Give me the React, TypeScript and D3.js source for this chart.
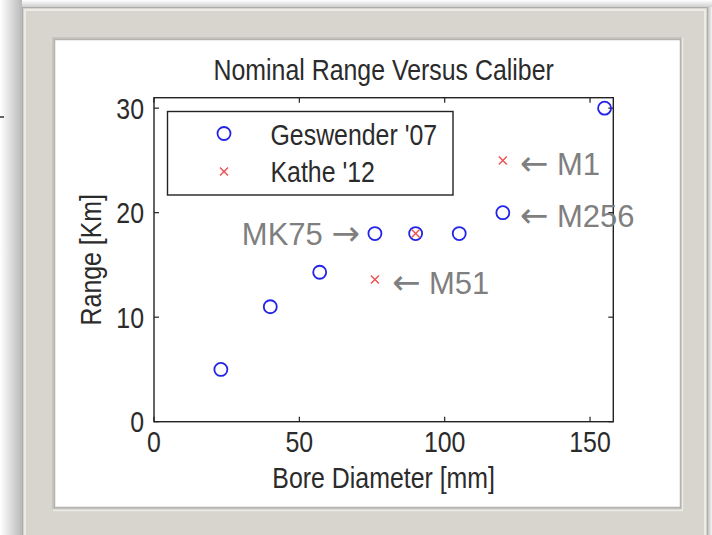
import React from 'react';
import * as d3 from 'd3';

// ---- data ----
const geswenderBore = [23, 40, 57, 76, 90, 105, 120, 155];
const geswenderRange = [5, 11, 14.3, 18, 18, 18, 20, 30];
const katheBore = [76, 90, 120];
const katheRange = [13.6, 18, 25];
const annotationLabels = ['MK75', 'M51', 'M256', 'M1'];
const annotationBore = [76, 76, 120, 120];
const annotationRange = [18, 13.6, 20, 25];
const annotationSide = ['left', 'right', 'right', 'right'];
const xTicks = [0, 50, 100, 150];
const yTicks = [0, 10, 20, 30];
const xDomain = [0, 158];
const yDomain = [0, 31];
const seriesNames = ["Geswender '07", "Kathe '12"];
const titleText = 'Nominal Range Versus Caliber';
const xLabelText = 'Bore Diameter [mm]';
const yLabelText = 'Range [Km]';

const W = 712;
const H = 535;
const FONT = '"Liberation Sans", Arial, "DejaVu Sans", sans-serif';
const ARROW_FONT = '"DejaVu Sans", sans-serif';
const FS = 30;
const SX = 0.83;
const TXT = '#2b2b2b';

function MText({ x, y, anchor = 'start', rotate = 0, children, size = FS, sx = SX, fill = TXT }: any) {
  return (
    <text
      transform={`translate(${x},${y}) rotate(${rotate}) scale(${sx},1)`}
      textAnchor={anchor}
      fontFamily={FONT}
      fontSize={size}
      fill={fill}
    >
      {children}
    </text>
  );
}

function Circle({ cx, cy }: any) {
  return <circle cx={cx} cy={cy} r={6.5} fill="none" stroke="#2323e8" strokeWidth={1.8} />;
}

function Cross({ cx, cy }: any) {
  const s = 4;
  return (
    <g stroke="#ee5050" strokeWidth={1.4}>
      <line x1={cx - s} y1={cy - s} x2={cx + s} y2={cy + s} />
      <line x1={cx - s} y1={cy + s} x2={cx + s} y2={cy - s} />
    </g>
  );
}

export default function App() {
  const x = d3.scaleLinear().domain(xDomain).range([154, 613.3]);
  const y = d3.scaleLinear().domain(yDomain).range([421.7, 97.7]);
  const [x0, x1] = x.range();
  const [y0, y1] = y.range();
  const tl = 5;
  const geswender = d3.zip(geswenderBore, geswenderRange);
  const kathe = d3.zip(katheBore, katheRange);
  const annotations = annotationLabels.map((l, i) => ({
    label: l,
    bx: annotationBore[i],
    r: annotationRange[i],
    side: annotationSide[i],
  }));

  return (
    <svg width={W} height={H} style={{ position: 'absolute', left: 0, top: 0 }}>
      <defs>
        <linearGradient id="shL" x1="0" x2="1" y1="0" y2="0">
          <stop offset="0" stopColor="#ffffff" />
          <stop offset="1" stopColor="#b9b9b9" />
        </linearGradient>
        <linearGradient id="shT" x1="0" x2="0" y1="0" y2="1">
          <stop offset="0" stopColor="#ffffff" />
          <stop offset="1" stopColor="#cfcfcf" />
        </linearGradient>
        <linearGradient id="shR" x1="0" x2="1" y1="0" y2="0">
          <stop offset="0" stopColor="#c4c4c4" />
          <stop offset="1" stopColor="#f4f4f4" />
        </linearGradient>
      </defs>
      <rect x={0} y={0} width={W} height={H} fill="#ffffff" />
      {/* shadows */}
      <rect x={0} y={0} width={22} height={H} fill="url(#shL)" />
      <rect x={22} y={0} width={690} height={7} fill="url(#shT)" />
      <rect x={708} y={7} width={4} height={H} fill="url(#shR)" />
      <line x1={0} x2={4} y1={117} y2={117} stroke="#333" strokeWidth={1.5} />
      {/* frame */}
      <rect x={22.5} y={7.5} width={685} height={H} fill="#d7d5ce" stroke="#aeaca6" strokeWidth={1} />
      <rect x={25} y={10} width={680} height={H} fill="none" stroke="#ecebe6" strokeWidth={2} />
      {/* inner panel bevel */}
      <rect x={52} y={37} width={630} height={472} fill="#c6c5bf" />
      <rect x={54.5} y={39.5} width={626} height={468} fill="#ffffff" stroke="#b4b3ad" strokeWidth={1.5} />
      <line x1={682.5} x2={682.5} y1={38} y2={510} stroke="#ebeae5" strokeWidth={1.5} />
      <line x1={53} x2={683} y1={510.5} y2={510.5} stroke="#ebeae5" strokeWidth={1.5} />

      {/* title */}
      <MText x={(x0 + x1) / 2} y={80} anchor="middle">{titleText}</MText>

      {/* axes box */}
      <rect x={x0} y={y1} width={x1 - x0} height={y0 - y1} fill="#ffffff" stroke="#222" strokeWidth={1.4} />
      {xTicks.map((t) => (
        <g key={'xt' + t} stroke="#222" strokeWidth={1.2}>
          <line x1={x(t)} x2={x(t)} y1={y0} y2={y0 - tl} />
          <line x1={x(t)} x2={x(t)} y1={y1} y2={y1 + tl} />
        </g>
      ))}
      {yTicks.map((t) => (
        <g key={'yt' + t} stroke="#222" strokeWidth={1.2}>
          <line x1={x0} x2={x0 + tl} y1={y(t)} y2={y(t)} />
          <line x1={x1} x2={x1 - tl} y1={y(t)} y2={y(t)} />
        </g>
      ))}
      {xTicks.map((t) => (
        <MText key={'xl' + t} x={x(t)} y={451.5} anchor="middle">{String(t)}</MText>
      ))}
      {yTicks.map((t) => (
        <MText key={'yl' + t} x={144} y={y(t) + 10.5} anchor="end">{String(t)}</MText>
      ))}
      <MText x={(x0 + x1) / 2} y={488} anchor="middle">{xLabelText}</MText>
      <MText x={101} y={(y0 + y1) / 2} anchor="middle" rotate={-90}>{yLabelText}</MText>

      {/* legend */}
      <rect x={167.5} y={111.5} width={285.5} height={83.5} fill="#ffffff" stroke="#222" strokeWidth={1.4} />
      <Circle cx={224} cy={133.5} />
      <Cross cx={224} cy={171.5} />
      <MText x={270.5} y={144.5}>{seriesNames[0]}</MText>
      <MText x={270.5} y={181.5}>{seriesNames[1]}</MText>

      {/* data */}
      {geswender.map(([b, r], i) => (
        <Circle key={'g' + i} cx={x(b)} cy={y(r)} />
      ))}
      {kathe.map(([b, r], i) => (
        <Cross key={'k' + i} cx={x(b)} cy={y(r)} />
      ))}

      {/* annotations */}
      {annotations.map((a) =>
        a.side === 'left' ? (
          <MText key={a.label} x={x(a.bx) - 15} y={y(a.r) + 11} anchor="end" sx={1} size={31} fill="#7f7f7f">
            {a.label + ' '}
            <tspan fontFamily={ARROW_FONT} fontSize={34}>{'\u2192'}</tspan>
          </MText>
        ) : (
          <MText key={a.label} x={x(a.bx) + 17} y={y(a.r) + 14.5} anchor="start" sx={1} size={31} fill="#7f7f7f">
            <tspan fontFamily={ARROW_FONT} fontSize={34}>{'\u2190'}</tspan>
            {' ' + a.label}
          </MText>
        )
      )}
    </svg>
  );
}
